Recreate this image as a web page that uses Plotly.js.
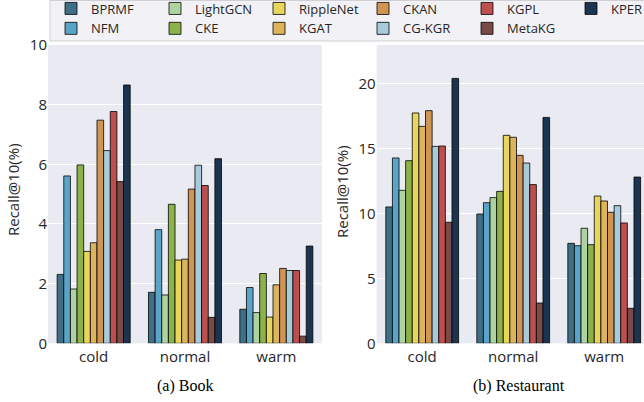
<!DOCTYPE html>
<html>
<head>
<meta charset="utf-8">
<script src="https://cdn.plot.ly/plotly-3.0.1.min.js"></script>
<style>
  html, body { margin: 0; padding: 0; overflow: hidden; background: #ffffff; }
  #chart { width: 700px; height: 402px; }
</style>
</head>
<body>
<div id="chart"></div>
<script>
// ---- data ----
const categories = ['cold', 'normal', 'warm'];
const models = ['BPRMF', 'NFM', 'LightGCN', 'CKE', 'RippleNet', 'KGAT', 'CKAN', 'CG-KGR', 'KGPL', 'MetaKG', 'KPER'];

// Book dataset, Recall@10 (%), one value per model
const bookCold   = [2.31, 5.61, 1.82, 5.98, 3.08, 3.37, 7.48, 6.46, 7.77, 5.42, 8.66];
const bookNormal = [1.71, 3.81, 1.62, 4.66, 2.79, 2.82, 5.17, 5.97, 5.29, 0.87, 6.19];
const bookWarm   = [1.14, 1.87, 1.03, 2.34, 0.88, 1.96, 2.51, 2.44, 2.44, 0.24, 3.26];

// Restaurant dataset, Recall@10 (%)
const restCold   = [10.49, 14.26, 11.77, 14.05, 17.72, 16.69, 17.90, 15.15, 15.18, 9.31, 20.38];
const restNormal = [9.95, 10.82, 11.21, 11.69, 16.00, 15.85, 14.46, 13.87, 12.21, 3.10, 17.38];
const restWarm   = [7.69, 7.51, 8.85, 7.59, 11.33, 10.95, 10.08, 10.59, 9.26, 2.69, 12.79];

const yTicksBook = [0, 2, 4, 6, 8, 10];
const yTicksRest = [0, 5, 10, 15, 20];

// ---- style ----
const colors = ['#3f6f86', '#5aa4c8', '#afd3a0', '#8db24a', '#e8d65c', '#dcb45c',
                '#d09552', '#a7cbdb', '#bd4f4f', '#7a4a48', '#1b3450'];
// legend ranks so that the 2-row legend reads column by column
const legendRanks = [1, 7, 2, 8, 3, 9, 4, 10, 5, 11, 6];

const W = 700, H = 402;
const tickFont = { family: 'Open Sans, sans-serif', size: 15, color: '#262626' };

const traces = [];
models.forEach((m, i) => {
  traces.push({
    type: 'bar', name: m, x: categories,
    y: [bookCold[i], bookNormal[i], bookWarm[i]],
    xaxis: 'x', yaxis: 'y',
    marker: { color: colors[i], line: { color: 'rgba(0,0,0,0.78)', width: 1 } },
    legendgroup: m, legendrank: legendRanks[i], showlegend: true,
    hoverinfo: 'name+y'
  });
});
models.forEach((m, i) => {
  traces.push({
    type: 'bar', name: m, x: categories,
    y: [restCold[i], restNormal[i], restWarm[i]],
    xaxis: 'x2', yaxis: 'y2',
    marker: { color: colors[i], line: { color: 'rgba(0,0,0,0.78)', width: 1 } },
    legendgroup: m, legendrank: legendRanks[i], showlegend: false,
    hoverinfo: 'name+y'
  });
});

// legend bottom edge (px from top); plot area starts there
const legBottom = 44.5;
const areaH = H - legBottom;
const yTop = 45, yBot = 343.3;
const yDomain = [(H - yBot) / areaH, 1 - (yTop - legBottom) / areaH];

const commonX = {
  type: 'category', range: [-0.5, 2.5], showgrid: false, zeroline: false,
  showline: false, ticks: '', tickfont: tickFont, fixedrange: true,
  ticklabelstandoff: 3
};
const commonY = {
  showgrid: true, gridcolor: '#ffffff', gridwidth: 1.2, zeroline: false,
  showline: false, ticks: '', tickfont: tickFont, fixedrange: true
};

function paperY(px) { return (H - px) / areaH; }
function paperX(px) { return px / W; }

const layout = {
  width: W, height: H,
  margin: { l: 0, r: 0, t: 0, b: 0 },
  paper_bgcolor: '#ffffff', plot_bgcolor: '#eaeaf2',
  barmode: 'group', bargap: 0.2, bargroupgap: 0,
  showlegend: true,
  legend: {
    orientation: 'h', xref: 'container', yref: 'container',
    x: 50 / W, y: (H - legBottom) / H, xanchor: 'left', yanchor: 'bottom',
    bgcolor: 'rgba(0,0,0,0)', bordercolor: 'rgba(0,0,0,0)', borderwidth: 1,
    font: { family: 'Open Sans, sans-serif', size: 13, color: '#262626' },
    entrywidth: 59, entrywidthmode: 'pixels', traceorder: 'normal',
    itemclick: false, itemdoubleclick: false
  },
  shapes: [
    // legend frame
    { type: 'rect', xref: 'paper', yref: 'paper', layer: 'above',
      x0: paperX(50), x1: paperX(720), y0: paperY(41), y1: paperY(0.5),
      fillcolor: '#f2f2f6', line: { color: '#cfcfd4', width: 1 } }
  ],
  xaxis: Object.assign({}, commonX, { domain: [48 / W, 322 / W], anchor: 'y' }),
  xaxis2: Object.assign({}, commonX, { domain: [376.7 / W, 649.7 / W], anchor: 'y2' }),
  yaxis: Object.assign({}, commonY, { domain: yDomain, range: [0, 10], tickvals: yTicksBook, anchor: 'x' }),
  yaxis2: Object.assign({}, commonY, { domain: yDomain, range: [0, 22.95], tickvals: yTicksRest, anchor: 'x2' }),
  annotations: [
    { text: 'Recall@10(%)', xref: 'paper', yref: 'paper', x: paperX(13), y: paperY(190),
      textangle: -90, showarrow: false, xanchor: 'center', yanchor: 'middle',
      font: { family: 'Open Sans, sans-serif', size: 15, color: '#262626' } },
    { text: 'Recall@10(%)', xref: 'paper', yref: 'paper', x: paperX(342), y: paperY(192),
      textangle: -90, showarrow: false, xanchor: 'center', yanchor: 'middle',
      font: { family: 'Open Sans, sans-serif', size: 15, color: '#262626' } },
    { text: '(a) Book', xref: 'paper', yref: 'paper', x: paperX(185), y: paperY(386),
      showarrow: false, xanchor: 'center', yanchor: 'middle',
      font: { family: 'Liberation Serif, Times New Roman, serif', size: 16, color: '#000000' } },
    { text: '(b) Restaurant', xref: 'paper', yref: 'paper', x: paperX(519), y: paperY(386),
      showarrow: false, xanchor: 'center', yanchor: 'middle',
      font: { family: 'Liberation Serif, Times New Roman, serif', size: 16, color: '#000000' } }
  ]
};

Plotly.newPlot('chart', traces, layout, { displayModeBar: false });
</script>
</body>
</html>
